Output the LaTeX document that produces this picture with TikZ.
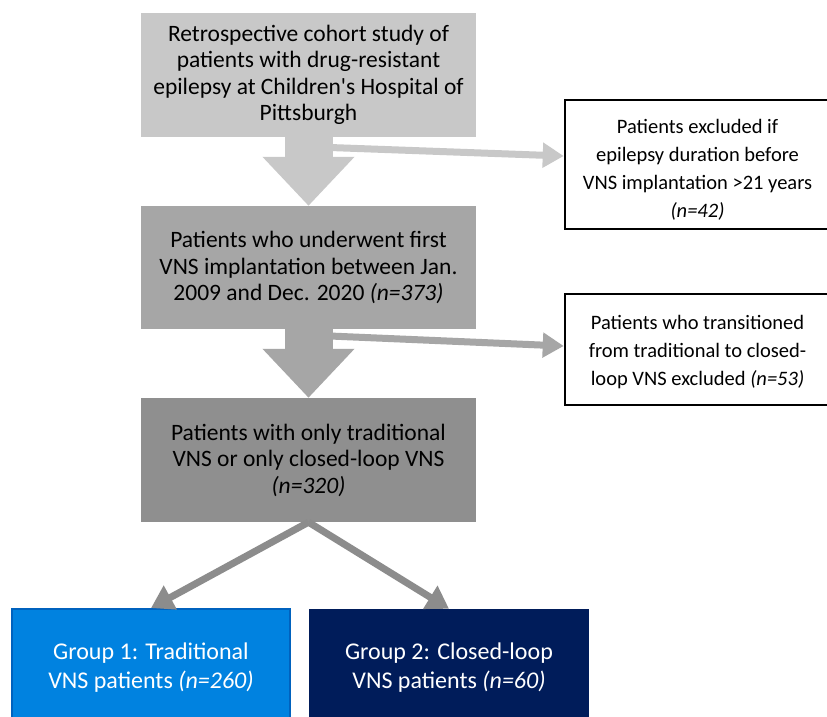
\documentclass[tikz,border=0pt]{standalone}
\usepackage{fontspec}
\setmainfont{Carlito}
\usetikzlibrary{arrows.meta,calc}

\definecolor{grayA}{RGB}{200,200,200}
\definecolor{grayB}{RGB}{166,166,166}
\definecolor{grayC}{RGB}{143,143,143}
\definecolor{arrowgray}{RGB}{140,140,140}
\definecolor{blueA}{RGB}{0,130,224}
\definecolor{blueAedge}{RGB}{0,98,190}
\definecolor{navyB}{RGB}{0,28,90}

\begin{document}
\begin{tikzpicture}[x=1pt,y=-1pt,
  graybox/.style={minimum width=335pt, minimum height=124pt, align=center, inner sep=0pt, font=\fontsize{23.5}{26.5}\selectfont},
  sidebox/.style={draw=black, line width=2.5pt, fill=white, minimum width=265pt, align=center, inner sep=0pt, font=\fontsize{20.5}{28}\selectfont},
  groupbox/.style={minimum height=118pt, align=center, text=white, inner sep=0pt, font=\fontsize{24}{29}\selectfont},
  bigarrow/.style={line width=48pt, -{Triangle[length=49pt,width=89pt]}},
  sidearrow/.style={line width=7pt, -{Triangle[length=21pt,width=24pt]}},
  splitarrow/.style={arrowgray, line width=7pt, -{Triangle[length=22pt,width=26pt]}}
]
\clip (0,0) rectangle (827,716);
\fill[white] (0,0) rectangle (827,716);

% Main column
\node[graybox, fill=grayA] (b1) at (308.5,75) {Retrospective cohort study of\\ patients with drug-resistant\\ epilepsy at Children\textquotesingle s Hospital of\\ Pittsburgh};
\node[graybox, fill=grayB, minimum height=123pt] (b2) at (308.5,267.5) {Patients who underwent first\\ VNS implantation between Jan.\\ 2009 and Dec. 2020 \textit{(n=373)}};
\node[graybox, fill=grayC] (b3) at (308.5,460) {Patients with only traditional\\ VNS or only closed-loop VNS\\ \textit{(n=320)}};

% Excluded
\node[sidebox, minimum height=129pt] (r1) at (697.5,164.5) {\rule{0pt}{25pt}Patients excluded if\\ epilepsy duration before\\ VNS implantation >21 years\\ \textit{(n=42)}};
\node[sidebox, minimum height=111pt] (r2) at (697.5,349.5) {\rule{0pt}{19pt}Patients who transitioned\\ from traditional to closed-\\ loop VNS excluded \textit{(n=53)}};

% Groups
\node[groupbox, fill=blueA, draw=blueAedge, line width=2pt, minimum width=278pt] (g1) at (151,668) {Group 1: Traditional\\ VNS patients \textit{(n=260)}};
\node[groupbox, fill=navyB, minimum width=280pt] (g2) at (449,668) {Group 2: Closed-loop\\ VNS patients \textit{(n=60)}};

\coordinate (s1) at (330,147.5);
\coordinate (e1) at ($(r1.west)+(0,-8.5)$);
\coordinate (s2) at (330,336);
\coordinate (e2) at ($(r2.west)+(0,-3.5)$);

\draw[sidearrow, grayA] (s1) -- (e1);
\draw[sidearrow, grayB] (s2) -- (e2);

\draw[bigarrow, grayA] (b1.south) -- (b2.north);
\draw[bigarrow, grayB] (b2.south) -- (b3.north);

\draw[splitarrow] (b3.south) -- (g1.north);
\draw[splitarrow] (b3.south) -- (g2.north);

\end{tikzpicture}
\end{document}
